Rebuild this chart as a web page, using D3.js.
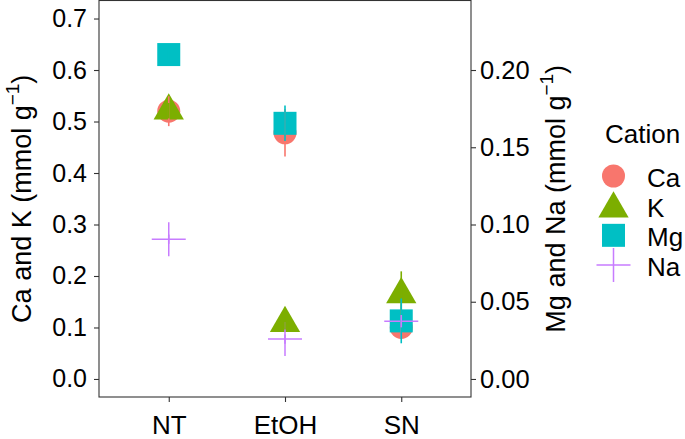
<!DOCTYPE html>
<html>
<head>
<meta charset="utf-8">
<script src="https://cdn.jsdelivr.net/npm/d3@7"></script>
<style>
  body { margin: 0; background: #fff; }
  svg text { font-family: 'Liberation Sans', Arial, sans-serif; }
</style>
</head>
<body>
<svg id="chart" width="685" height="439"></svg>
<script>
// treatments and cations
const categories = ['NT', 'EtOH', 'SN'];
const cations = ['Ca', 'K', 'Mg', 'Na'];
const cationColors = ['#F8766D', '#7CAE00', '#00BFC4', '#C77CFF'];

// Ca and K on the left axis (mmol g-1)
const caMean = [0.520, 0.478, 0.100];
const caErr = [0.029, 0.046, 0.012];
const kMean = [0.521, 0.108, 0.164];
const kErr = [0.015, 0.012, 0.045];
// Mg and Na on the right axis (mmol g-1)
const mgMean = [0.210, 0.1655, 0.0376];
const mgErr = [0.004, 0.0115, 0.0145];
const naMean = [0.0905, 0.0258, 0.0374];
const naErr = [0.003, 0.003, 0.004];

const leftTicks = [0, 0.1, 0.2, 0.3, 0.4, 0.5, 0.6, 0.7];
const rightTicks = [0, 0.05, 0.1, 0.15, 0.2];

const panel = { left: 99, right: 471, top: 0.5, bottom: 397 };
const svg = d3.select('svg');

const x = d3.scalePoint().domain(categories).range([panel.left, panel.right]).padding(0.6);
const yL = d3.scaleLinear().domain([-0.035, 0.735]).range([panel.bottom, panel.top]);
const yR = d3.scaleLinear().domain([-0.035 / 3, 0.735 / 3]).range([panel.bottom, panel.top]);

const series = [
  { name: 'Ca', mean: caMean, err: caErr, y: yL, shape: 'circle' },
  { name: 'K', mean: kMean, err: kErr, y: yL, shape: 'triangle' },
  { name: 'Mg', mean: mgMean, err: mgErr, y: yR, shape: 'square' },
  { name: 'Na', mean: naMean, err: naErr, y: yR, shape: 'plus' },
];
series.forEach((s, i) => { s.color = cationColors[i]; });

function drawShape(g, shape, color, cx, cy) {
  if (shape === 'circle') {
    g.append('circle').attr('cx', cx).attr('cy', cy).attr('r', 11.5).attr('fill', color);
  } else if (shape === 'triangle') {
    const r = 17.5;
    const pts = [[cx, cy - r], [cx + r * 0.866, cy + r * 0.5], [cx - r * 0.866, cy + r * 0.5]];
    g.append('path').attr('d', d3.line()(pts) + 'Z').attr('fill', color);
  } else if (shape === 'square') {
    g.append('rect').attr('x', cx - 11.5).attr('y', cy - 11.5)
      .attr('width', 23).attr('height', 23).attr('fill', color);
  } else {
    const a = 17;
    g.append('path')
      .attr('d', `M${cx - a},${cy}H${cx + a}M${cx},${cy - a}V${cy + a}`)
      .attr('stroke', color).attr('stroke-width', 1.5).attr('fill', 'none');
  }
}

// panel border
svg.append('rect')
  .attr('x', panel.left).attr('y', panel.top)
  .attr('width', panel.right - panel.left).attr('height', panel.bottom - panel.top)
  .attr('fill', '#fff').attr('stroke', '#333').attr('stroke-width', 1.1);

// points
const gPts = svg.append('g').attr('class', 'points');
series.forEach((s) => {
  categories.forEach((c, j) => drawShape(gPts, s.shape, s.color, x(c), s.y(s.mean[j])));
});

// error bars
const gErr = svg.append('g').attr('class', 'errorbars');
series.forEach((s) => {
  gErr.selectAll(null).data(categories).enter()
    .append('line')
    .attr('x1', (d) => x(d)).attr('x2', (d) => x(d))
    .attr('y1', (d, j) => s.y(s.mean[j] - s.err[j]))
    .attr('y2', (d, j) => s.y(s.mean[j] + s.err[j]))
    .attr('stroke', s.color).attr('stroke-width', 1.6);
});

// axes
function styleAxis(g, size) {
  g.select('.domain').remove();
  g.selectAll('.tick line').attr('stroke', '#333').attr('stroke-width', 1.1);
  g.selectAll('.tick text').attr('fill', '#000').attr('font-size', size);
}

svg.append('g')
  .attr('transform', `translate(${panel.left},0)`)
  .call(d3.axisLeft(yL).tickValues(leftTicks).tickFormat(d3.format('.1f')).tickSize(5).tickPadding(7))
  .call((g) => styleAxis(g, 25));

svg.append('g')
  .attr('transform', `translate(${panel.right},0)`)
  .call(d3.axisRight(yR).tickValues(rightTicks).tickFormat(d3.format('.2f')).tickSize(5).tickPadding(4))
  .call((g) => styleAxis(g, 25.5));

svg.append('g')
  .attr('transform', `translate(0,${panel.bottom})`)
  .call(d3.axisBottom(x).tickSize(5).tickPadding(14))
  .call((g) => styleAxis(g, 26));

// axis titles
function axisTitle(label, tx, ty) {
  const t = svg.append('text')
    .attr('transform', `translate(${tx},${ty}) rotate(-90)`)
    .attr('text-anchor', 'middle')
    .attr('dominant-baseline', 'central')
    .attr('font-size', 27)
    .attr('fill', '#000');
  t.append('tspan').text(`${label} (mmol g`);
  t.append('tspan').attr('dy', -10).attr('font-size', 19).text('\u22121');
  t.append('tspan').attr('dy', 10).text(')');
}
axisTitle('Ca and K', 22, (panel.top + panel.bottom) / 2);
axisTitle('Mg and Na', 556, (panel.top + panel.bottom) / 2);

// legend
const legend = svg.append('g').attr('transform', 'translate(605,0)');
legend.append('text').attr('x', 0).attr('y', 143)
  .attr('font-size', 26).attr('fill', '#000').text('Cation');
const keyY = d3.scalePoint().domain(cations).range([176, 265]);
series.forEach((s) => {
  const cy = keyY(s.name);
  drawShape(legend, s.shape, s.color, 8.5, s.shape === 'triangle' ? cy + 3 : cy);
  legend.append('text').attr('x', 42).attr('y', cy + 2)
    .attr('dominant-baseline', 'central')
    .attr('font-size', 26).attr('fill', '#000').text(s.name);
});
</script>
</body>
</html>
